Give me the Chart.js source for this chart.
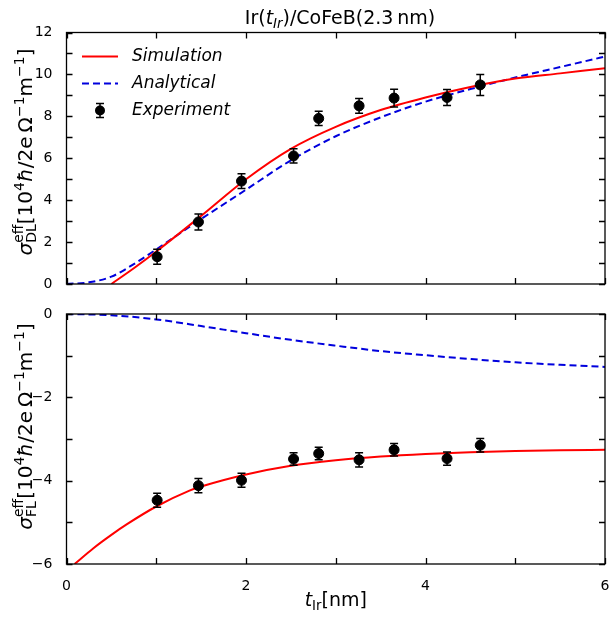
<!DOCTYPE html>
<html>
<head>
<meta charset="utf-8">
<script src="https://cdn.jsdelivr.net/npm/chart.js@4.4.1/dist/chart.umd.min.js"></script>
<style>
  body { margin: 0; background: #fff; }
  #wrap { position: relative; width: 611px; height: 617px; }
  #top { position: absolute; left: 0; top: 0; }
  #bot { position: absolute; left: 0; top: 300px; }
</style>
</head>
<body>
<div id="wrap">
  <canvas id="top" width="611" height="305"></canvas>
  <canvas id="bot" width="611" height="317"></canvas>
</div>
<script>
const FONT = '"DejaVu Sans", sans-serif';

// experiment, Ir thickness in nm
const expX  = [1.01, 1.47, 1.95, 2.53, 2.81, 3.26, 3.65, 4.24, 4.61];
const dlExp = [1.3, 2.96, 4.91, 6.11, 7.9, 8.5, 8.87, 8.9, 9.5];
const dlErr = [0.36, 0.38, 0.35, 0.34, 0.34, 0.35, 0.42, 0.38, 0.5];
const flExp = [-4.47, -4.12, -3.99, -3.48, -3.35, -3.5, -3.26, -3.47, -3.15];
const flErr = [0.17, 0.17, 0.17, 0.15, 0.15, 0.17, 0.15, 0.16, 0.16];

// damping-like curves
const dlSimX = [0.5, 0.75, 1, 1.5, 2, 2.5, 3, 3.5, 4, 4.5, 5, 5.5, 6];
const dlSimY = [0, 0.75, 1.55, 3.25, 5.0, 6.45, 7.5, 8.3, 8.9, 9.4, 9.8, 10.05, 10.3];
const dlAnaX = [0, 0.25, 0.5, 0.75, 1, 1.5, 2, 2.5, 3, 3.5, 4, 4.5, 5, 5.5, 6];
const dlAnaY = [0, 0.08, 0.35, 0.95, 1.65, 3.1, 4.5, 5.9, 7.05, 7.95, 8.7, 9.3, 9.85, 10.35, 10.85];

// field-like curves
const flSimX = [0.09, 0.3, 0.5, 0.67, 1, 1.37, 1.5, 2, 2.5, 3, 3.5, 4, 4.5, 5, 5.5, 6];
const flSimY = [-6, -5.62, -5.3, -5.05, -4.62, -4.24, -4.14, -3.85, -3.64, -3.51, -3.42, -3.36, -3.32, -3.29, -3.27, -3.26];
const flAnaX = [0, 0.5, 1, 1.5, 2, 2.5, 3, 3.5, 4, 4.5, 5, 5.5, 6];
const flAnaY = [0, -0.03, -0.13, -0.29, -0.46, -0.62, -0.76, -0.89, -0.99, -1.08, -1.16, -1.22, -1.27];

const xTicks = [0, 2, 4, 6];

const pts = (xs, ys) => xs.map((x, i) => ({ x: x, y: ys[i] }));

// text made of pieces (italic, super/subscripts)
function richWidth(ctx, parts, size) {
  let w = 0;
  parts.forEach(p => {
    if (p.sup !== undefined) {
      ctx.font = (size * 0.7) + 'px ' + FONT;
      w += Math.max(ctx.measureText(p.sup).width, ctx.measureText(p.sub).width);
    } else {
      const s = p.small ? size * 0.7 : size;
      ctx.font = (p.it ? 'italic ' : '') + s + 'px ' + FONT;
      w += ctx.measureText(p.t).width;
    }
  });
  return w;
}
function drawRich(ctx, parts, cx, cy, size) {
  let x = cx - richWidth(ctx, parts, size) / 2;
  ctx.textAlign = 'left';
  ctx.textBaseline = 'alphabetic';
  ctx.fillStyle = '#000';
  parts.forEach(p => {
    if (p.sup !== undefined) {
      ctx.font = (size * 0.7) + 'px ' + FONT;
      ctx.fillText(p.sup, x, cy - size * 0.42);
      ctx.fillText(p.sub, x, cy + size * 0.22);
      x += Math.max(ctx.measureText(p.sup).width, ctx.measureText(p.sub).width);
    } else {
      const s = p.small ? size * 0.7 : size;
      ctx.font = (p.it ? 'italic ' : '') + s + 'px ' + FONT;
      ctx.fillText(p.t, x, cy + (p.dy || 0) * size);
      x += ctx.measureText(p.t).width;
    }
  });
}
function unitParts(sub) {
  return [
    { t: 'σ', it: true }, { sup: 'eff', sub: sub },
    { t: '[10' }, { t: '4', small: true, dy: -0.4 }, { t: 'ħ', it: true },
    { t: '/2e\u2009Ω' }, { t: '−1', small: true, dy: -0.4 },
    { t: 'm' }, { t: '−1', small: true, dy: -0.4 }, { t: ']' }
  ];
}

const framePlugin = {
  id: 'frame',
  afterDatasetsDraw(chart, args, opts) {
    const ctx = chart.ctx, xs = chart.scales.x, ys = chart.scales.y;
    // error bars
    ctx.save();
    ctx.strokeStyle = '#000';
    ctx.lineWidth = 1.5;
    opts.err.forEach((e, i) => {
      const px = xs.getPixelForValue(expX[i]);
      const v = opts.vals[i];
      const y1 = ys.getPixelForValue(v - e), y2 = ys.getPixelForValue(v + e);
      ctx.beginPath();
      ctx.moveTo(px, y1); ctx.lineTo(px, y2);
      ctx.moveTo(px - 4, y1); ctx.lineTo(px + 4, y1);
      ctx.moveTo(px - 4, y2); ctx.lineTo(px + 4, y2);
      ctx.stroke();
    });
    ctx.restore();
  },
  afterDraw(chart, args, opts) {
    const ctx = chart.ctx, a = chart.chartArea;
    const xs = chart.scales.x, ys = chart.scales.y;
    ctx.save();
    ctx.strokeStyle = '#000';
    ctx.lineWidth = 1.3;
    ctx.strokeRect(a.left, a.top, a.right - a.left, a.bottom - a.top);
    // inward ticks on every side
    ctx.beginPath();
    for (let v = xs.min; v <= xs.max; v += 1) {
      const p = Math.round(xs.getPixelForValue(v)) + 0.5;
      ctx.moveTo(p, a.bottom); ctx.lineTo(p, a.bottom - 6);
      ctx.moveTo(p, a.top); ctx.lineTo(p, a.top + 6);
    }
    for (let v = ys.min; v <= ys.max; v += 1) {
      const p = Math.round(ys.getPixelForValue(v)) + 0.5;
      ctx.moveTo(a.left, p); ctx.lineTo(a.left + 6, p);
      ctx.moveTo(a.right, p); ctx.lineTo(a.right - 6, p);
    }
    ctx.stroke();

    // rotated y title
    ctx.save();
    ctx.translate(31.5, opts.yTitleAt);
    ctx.rotate(-Math.PI / 2);
    drawRich(ctx, unitParts(opts.sub), 0, 0, 20);
    ctx.restore();

    if (opts.title) {
      drawRich(ctx, [{ t: 'Ir(' }, { t: 't', it: true }, { t: 'Ir', it: true, small: true, dy: 0.22 },
        { t: ')/CoFeB(2.3\u2009nm)' }], 340, 24, 19);
    }
    if (opts.xTitle) {
      drawRich(ctx, [{ t: 't', it: true }, { t: 'Ir', small: true, dy: 0.22 }, { t: '[nm]' }],
        (a.left + a.right) / 2, 306, 19);
    }
    if (opts.legend) {
      const ds = chart.data.datasets;
      const rows = [ds[1], ds[2], ds[0]];
      ctx.font = 'italic 17px ' + FONT;
      ctx.textBaseline = 'middle';
      ctx.textAlign = 'left';
      rows.forEach((d, i) => {
        const y = a.top + 24 + i * 27;
        if (d.showLine) {
          ctx.strokeStyle = d.borderColor;
          ctx.lineWidth = d.borderWidth;
          ctx.setLineDash(d.borderDash || []);
          ctx.beginPath(); ctx.moveTo(82, y); ctx.lineTo(118, y); ctx.stroke();
          ctx.setLineDash([]);
        } else {
          ctx.strokeStyle = '#000'; ctx.lineWidth = 1.5;
          ctx.beginPath();
          ctx.moveTo(100, y - 7); ctx.lineTo(100, y + 7);
          ctx.moveTo(96, y - 7); ctx.lineTo(104, y - 7);
          ctx.moveTo(96, y + 7); ctx.lineTo(104, y + 7);
          ctx.stroke();
          ctx.fillStyle = '#000';
          ctx.beginPath(); ctx.arc(100, y, 5, 0, Math.PI * 2); ctx.fill();
        }
        ctx.fillStyle = '#000';
        ctx.fillText(d.label, 132, y);
      });
    }
    ctx.restore();
  }
};

// labels may hang over the plot edges, as in matplotlib
function noPad(s) {
  s.paddingLeft = 0; s.paddingRight = 0; s.paddingTop = 0; s.paddingBottom = 0;
}

function makeChart(id, cfg) {
  const chart = new Chart(document.getElementById(id), {
    type: 'scatter',
    data: {
      datasets: [
        { label: 'Experiment', data: pts(expX, cfg.exp), showLine: false, order: 0,
          pointRadius: 5, pointBackgroundColor: '#000', pointBorderColor: '#000' },
        { label: 'Simulation', data: pts(cfg.simX, cfg.simY), showLine: true, order: 1,
          borderColor: '#ff0000', borderWidth: 2, pointRadius: 0, cubicInterpolationMode: 'monotone' },
        { label: 'Analytical', data: pts(cfg.anaX, cfg.anaY), showLine: true, order: 1,
          borderColor: '#0000dd', borderWidth: 2, borderDash: [7, 4], pointRadius: 0,
          cubicInterpolationMode: 'monotone' }
      ]
    },
    options: {
      responsive: false,
      animation: false,
      layout: { padding: { top: cfg.area.top, right: 611 - cfg.area.right, bottom: cfg.padBottom, left: 0 } },
      plugins: {
        legend: { display: false },
        tooltip: { enabled: false },
        frame: cfg.frame
      },
      scales: {
        x: {
          type: 'linear', min: 0, max: 6,
          grid: { display: false }, border: { display: false },
          afterBuildTicks: s => { s.ticks = xTicks.map(v => ({ value: v })); },
          afterFit: s => { s.height = cfg.xHeight; noPad(s); },
          ticks: { display: cfg.xLabels, padding: 6, color: '#000', font: { family: FONT, size: 14 } }
        },
        y: {
          type: 'linear', min: cfg.yMin, max: cfg.yMax,
          grid: { display: false }, border: { display: false },
          afterFit: s => { s.width = cfg.area.left; noPad(s); },
          ticks: { stepSize: 2, padding: 6, color: '#000', font: { family: FONT, size: 14 },
            callback: v => String(v).replace('-', '−') }
        }
      }
    },
    plugins: [framePlugin]
  });
  // nudge the padding so the plot box lands where the reference has it
  const pad = chart.config.options.layout.padding;
  for (let k = 0; k < 3; k++) {
    const a = chart.chartArea;
    pad.right += a.right - cfg.area.right;
    pad.top += cfg.area.top - a.top;
    pad.bottom += a.bottom - cfg.area.bottom;
    chart.update();
  }
  return chart;
}

makeChart('top', {
  exp: dlExp, simX: dlSimX, simY: dlSimY, anaX: dlAnaX, anaY: dlAnaY,
  yMin: 0, yMax: 12, xLabels: false, xHeight: 0, padBottom: 21,
  area: { left: 66.5, right: 606, top: 32.5, bottom: 284 },
  frame: { err: dlErr, vals: dlExp, sub: 'DL', title: true, legend: true, xTitle: false, yTitleAt: 152 }
});

makeChart('bot', {
  exp: flExp, simX: flSimX, simY: flSimY, anaX: flAnaX, anaY: flAnaY,
  yMin: -6, yMax: 0, xLabels: true, xHeight: 53, padBottom: 0,
  area: { left: 66.5, right: 606, top: 14, bottom: 264 },
  frame: { err: flErr, vals: flExp, sub: 'FL', title: false, legend: false, xTitle: true, yTitleAt: 126.5 }
});
</script>
</body>
</html>
